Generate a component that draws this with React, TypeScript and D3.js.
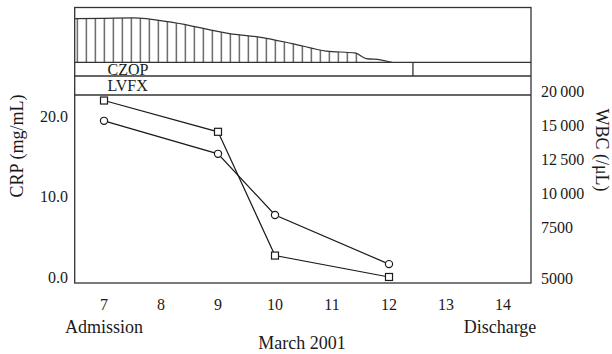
import React from "react";
import * as d3 from "d3";

const days = [7, 8, 9, 10, 11, 12, 13, 14];
const crpTicks = [0, 10, 20];
const wbcTicks = [5000, 7500, 10000, 12500, 15000, 20000];
const crpDays = [7, 9, 10, 12];
const crpValues = [19.4, 15.3, 7.7, 1.6];
const wbcDays = [7, 9, 10, 12];
const wbcValues = [18600, 14500, 6100, 5050];
const feverDays = [6.49, 7.0, 7.5, 8.2, 9.2, 9.75, 10.3, 10.9, 11.4, 11.6, 11.85, 12.05];
const feverTemps = [39.5, 39.52, 39.55, 39.2, 38.3, 38.0, 37.5, 36.9, 36.75, 36.3, 36.2, 36.0];
const drugs = ["CZOP", "LVFX"];
const czopEndDay = 12.42;

const W = 612;
const H = 354;
const left = 74.7;
const right = 531;
const top = 7.5;
const feverBottom = 62.3;
const czopBottom = 76;
const lvfxBottom = 95;
const bottom = 283;
const FONT = "Liberation Serif, Times New Roman, serif";
const INK = "#1a1a1a";
const LINE = "#333";

export default function App() {
  const x = d3.scaleLinear().domain([7, 14]).range([104, 503]);
  const crpY = d3.scaleLinear().domain([0, 20]).range([277, 116]);
  const wbcY = d3
    .scaleLinear()
    .domain(wbcTicks)
    .range([278, 227, 193, 159, 125, 91]);
  const tempY = d3.scaleLinear().domain([36, 40]).range([feverBottom, 12.3]);

  const feverPts = feverDays.map((d, i) => [d, feverTemps[i]] as [number, number]);
  const area = d3
    .area<[number, number]>()
    .x((p) => x(p[0]))
    .y0(feverBottom)
    .y1((p) => tempY(p[1]))
    .curve(d3.curveMonotoneX);
  const curve = d3
    .line<[number, number]>()
    .x((p) => x(p[0]))
    .y((p) => tempY(p[1]))
    .curve(d3.curveMonotoneX);

  const crpLine = d3
    .line<number>()
    .x((_, i) => x(crpDays[i]))
    .y((v) => crpY(v));
  const wbcLine = d3
    .line<number>()
    .x((_, i) => x(wbcDays[i]))
    .y((v) => wbcY(v));

  const fmtWbc = (v: number) =>
    v >= 10000 ? d3.format(",")(v).replace(",", "\u2009") : String(v);

  const hatchLimit = 358;

  return (
    <svg
      width={W}
      height={H}
      style={{ position: "absolute", left: 0, top: 0, background: "#fff" }}
      fontFamily={FONT}
    >
      <defs>
        <pattern id="hatch" patternUnits="userSpaceOnUse" x={76.7} y={0} width={9} height={H}>
          <line x1={0.6} x2={0.6} y1={0} y2={H} stroke={LINE} strokeWidth={1.1} />
        </pattern>
        <clipPath id="hatchClip">
          <rect x={left} y={top} width={hatchLimit - left} height={feverBottom - top} />
        </clipPath>
      </defs>

      {/* fever area */}
      <path d={area(feverPts) || ""} fill="url(#hatch)" clipPath="url(#hatchClip)" />
      <path d={curve(feverPts) || ""} fill="none" stroke={LINE} strokeWidth={1.2} />

      {/* frames */}
      <rect x={left} y={top} width={right - left} height={bottom - top} fill="none" stroke={LINE} strokeWidth={1.3} />
      <line x1={left} x2={right} y1={feverBottom} y2={feverBottom} stroke={LINE} strokeWidth={1.3} />
      <line x1={left} x2={right} y1={czopBottom} y2={czopBottom} stroke={LINE} strokeWidth={1.3} />
      <line x1={left} x2={right} y1={lvfxBottom} y2={lvfxBottom} stroke={LINE} strokeWidth={1.3} />
      <line x1={x(czopEndDay)} x2={x(czopEndDay)} y1={feverBottom} y2={czopBottom} stroke={LINE} strokeWidth={1.3} />

      {/* drug labels */}
      {drugs.map((d, i) => (
        <text
          key={d}
          x={107.5}
          y={i === 0 ? 75 : 91}
          fontSize={16}
          fill={INK}
        >
          {d}
        </text>
      ))}

      {/* series */}
      <path d={crpLine(crpValues) || ""} fill="none" stroke={INK} strokeWidth={1.2} />
      <path d={wbcLine(wbcValues) || ""} fill="none" stroke={INK} strokeWidth={1.2} />
      {crpValues.map((v, i) => (
        <circle key={"c" + i} cx={x(crpDays[i])} cy={crpY(v)} r={3.6} fill="#fff" stroke={INK} strokeWidth={1.2} />
      ))}
      {wbcValues.map((v, i) => (
        <rect
          key={"s" + i}
          x={x(wbcDays[i]) - 3.5}
          y={wbcY(v) - 3.5}
          width={7}
          height={7}
          fill="#fff"
          stroke={INK}
          strokeWidth={1.2}
        />
      ))}

      {/* left axis labels */}
      {crpTicks.map((t) => (
        <text key={"l" + t} x={68} y={crpY(t)} dy="0.35em" textAnchor="end" fontSize={16} fill={INK}>
          {t.toFixed(1)}
        </text>
      ))}
      {/* right axis labels */}
      {wbcTicks.map((t) => (
        <text key={"r" + t} x={541} y={wbcY(t)} dy="0.35em" textAnchor="start" fontSize={16} fill={INK}>
          {fmtWbc(t)}
        </text>
      ))}
      {/* x tick labels */}
      {days.map((d) => (
        <text key={"x" + d} x={x(d)} y={310} textAnchor="middle" fontSize={16} fill={INK}>
          {d}
        </text>
      ))}
      <text x={x(days[0])} y={333} textAnchor="middle" fontSize={18} fill={INK}>
        Admission
      </text>
      <text x={x(days[days.length - 1]) - 3} y={333} textAnchor="middle" fontSize={18} fill={INK}>
        Discharge
      </text>
      <text x={302} y={349} textAnchor="middle" fontSize={18} fill={INK}>
        March 2001
      </text>
      <text
        transform={`translate(23,146) rotate(-90)`}
        textAnchor="middle"
        fontSize={18}
        fill={INK}
      >
        CRP (mg/mL)
      </text>
      <text
        transform={`translate(596,150) rotate(90)`}
        textAnchor="middle"
        fontSize={18}
        fill={INK}
      >
        WBC (/μL)
      </text>
    </svg>
  );
}
